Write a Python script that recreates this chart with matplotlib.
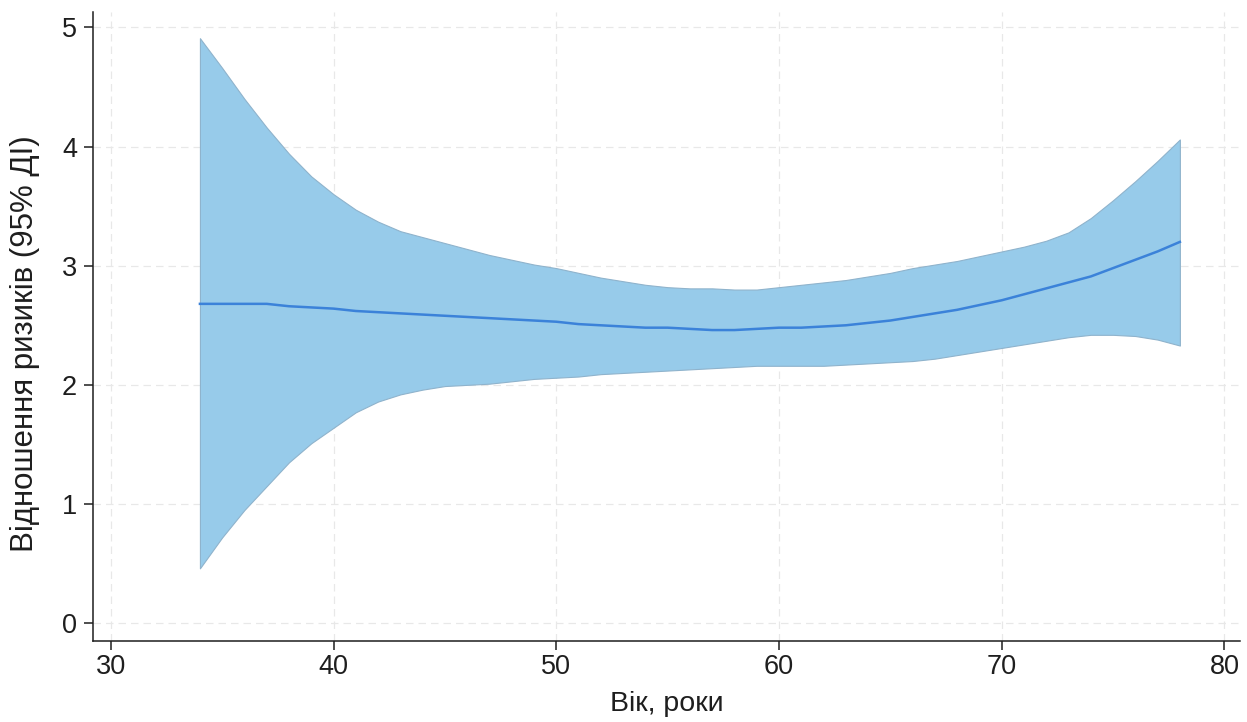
import numpy as np
import matplotlib
matplotlib.use("Agg")
import matplotlib.pyplot as plt

plt.rcParams["font.family"] = ["Liberation Sans", "DejaVu Sans"]

# ---------------- Data: hazard ratio by age with 95% CI ----------------
age = [34, 35, 36, 37, 38, 39, 40, 41, 42, 43, 44, 45, 46, 47, 48, 49, 50,
       51, 52, 53, 54, 55, 56, 57, 58, 59, 60, 61, 62, 63, 64, 65, 66, 67,
       68, 69, 70, 71, 72, 73, 74, 75, 76, 77, 78]

hr = [2.68, 2.68, 2.68, 2.68, 2.66, 2.65, 2.64, 2.62, 2.61, 2.60, 2.59,
      2.58, 2.57, 2.56, 2.55, 2.54, 2.53, 2.51, 2.50, 2.49, 2.48, 2.48,
      2.47, 2.46, 2.46, 2.47, 2.48, 2.48, 2.49, 2.50, 2.52, 2.54, 2.57,
      2.60, 2.63, 2.67, 2.71, 2.76, 2.81, 2.86, 2.91, 2.98, 3.05, 3.12, 3.20]

ci_low = [0.46, 0.72, 0.95, 1.15, 1.35, 1.51, 1.64, 1.77, 1.86, 1.92, 1.96,
          1.99, 2.00, 2.01, 2.03, 2.05, 2.06, 2.07, 2.09, 2.10, 2.11, 2.12,
          2.13, 2.14, 2.15, 2.16, 2.16, 2.16, 2.16, 2.17, 2.18, 2.19, 2.20,
          2.22, 2.25, 2.28, 2.31, 2.34, 2.37, 2.40, 2.42, 2.42, 2.41, 2.38, 2.33]

ci_high = [4.91, 4.66, 4.40, 4.16, 3.94, 3.75, 3.60, 3.47, 3.37, 3.29, 3.24,
           3.19, 3.14, 3.09, 3.05, 3.01, 2.98, 2.94, 2.90, 2.87, 2.84, 2.82,
           2.81, 2.81, 2.80, 2.80, 2.82, 2.84, 2.86, 2.88, 2.91, 2.94, 2.98,
           3.01, 3.04, 3.08, 3.12, 3.16, 3.21, 3.28, 3.40, 3.55, 3.71, 3.88, 4.06]

x_ticks = [30, 40, 50, 60, 70, 80]
y_ticks = [0, 1, 2, 3, 4, 5]

FILL_COLOR = "#97cbea"
LINE_COLOR = "#3b82d9"
INK = "#1e1e1e"


def main():
    fig = plt.figure(figsize=(12.47, 7.22), dpi=100)
    ax = fig.add_axes([0.0746, 0.1122, 0.9198, 0.8712])

    ax.fill_between(age, ci_low, ci_high, facecolor=FILL_COLOR,
                    edgecolor="#8fb3cc", linewidth=0.8, zorder=2)
    ax.plot(age, hr, color=LINE_COLOR, linewidth=1.8, zorder=3)

    ax.set_xlim(29.2, 80.7)
    ax.set_ylim(-0.15, 5.13)
    ax.set_xticks(x_ticks)
    ax.set_yticks(y_ticks)

    ax.grid(True, color="#e8e8e8", linestyle=(0, (6, 4)), linewidth=0.9, zorder=0)
    ax.set_axisbelow(True)

    for side in ("top", "right"):
        ax.spines[side].set_visible(False)
    for side in ("left", "bottom"):
        ax.spines[side].set_linewidth(1.1)
        ax.spines[side].set_color(INK)

    ax.tick_params(axis="both", length=6.5, width=1.1, color=INK,
                   labelsize=19.5, labelcolor=INK)
    ax.tick_params(axis="y", pad=5)
    ax.tick_params(axis="x", pad=3)

    ax.set_xlabel("Вік, роки", fontsize=20.5, color=INK)
    ax.set_ylabel("Відношення ризиків (95% ДІ)", fontsize=22.5, color=INK)
    ax.xaxis.set_label_coords(0.5, -0.079)
    ax.yaxis.set_label_coords(-0.046, 0.472)

    fig.savefig("out.png", dpi=100, facecolor="white")
    plt.close(fig)


if __name__ == "__main__":
    main()
